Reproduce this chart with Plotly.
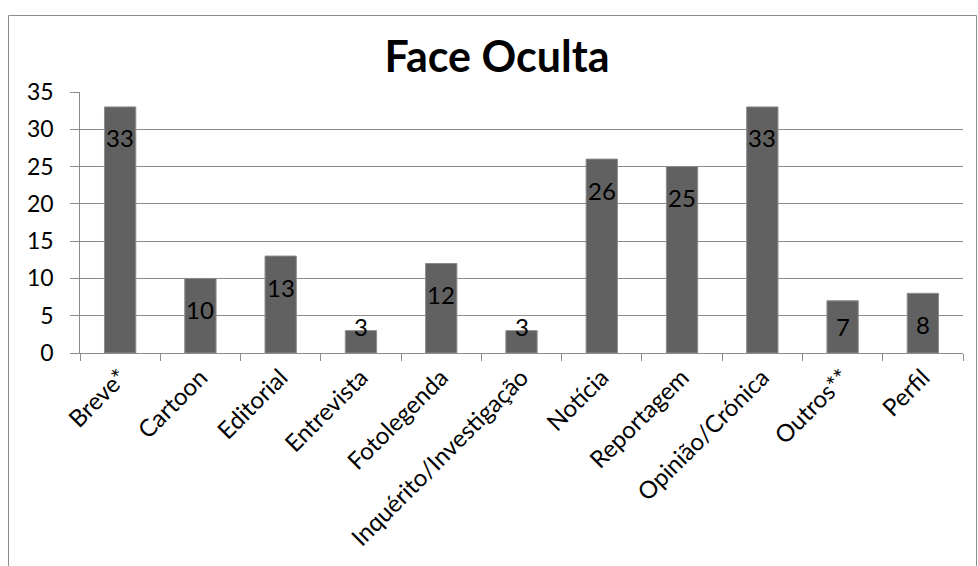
import plotly.graph_objects as go

categories = ["Breve*", "Cartoon", "Editorial", "Entrevista", "Fotolegenda",
              "Inquérito/Investigação", "Notícia", "Reportagem", "Opinião/Crónica",
              "Outros**", "Perfil"]
values = [33, 10, 13, 3, 12, 3, 26, 25, 33, 7, 8]
y_ticks = [0, 5, 10, 15, 20, 25, 30, 35]
title_text = "Face Oculta"

FONT = "Lato"
W, H = 978, 566
L, R, T, B = 80, 15, 92, 213

fig = go.Figure()
fig.add_trace(go.Bar(
    x=categories, y=values,
    marker=dict(color="#616161", line=dict(color="#8c8c8c", width=1)),
    width=0.39,
    hoverinfo="x+y",
))

# data labels ("inside end", Excel-like, clamped for short bars)
for c, v in zip(categories, values):
    fig.add_annotation(x=c, y=max(v - 4.15, 3.5), text=str(v), showarrow=False,
                       xanchor="center", yanchor="middle",
                       font=dict(family=FONT, size=24, color="black"))

pw = W - L - R
ph = H - T - B
# chart area border
fig.add_shape(type="rect", xref="paper", yref="paper",
              x0=(8.5 - L) / pw, x1=(976.5 - L) / pw,
              y0=(H - T - B - (620 - T)) / ph, y1=(H - B - 15.5) / ph,
              line=dict(color="#8c8c8c", width=1), fillcolor="rgba(0,0,0,0)", layer="below")

fig.update_layout(
    width=W, height=H,
    margin=dict(l=L, r=R, t=T, b=B),
    paper_bgcolor="white", plot_bgcolor="white",
    showlegend=False,
    title=dict(text="<b>" + title_text + "</b>", x=497 / W, xanchor="center",
               y=1 - 57 / H, yanchor="middle",
               font=dict(family=FONT, size=43, color="black")),
    font=dict(family=FONT, size=23, color="black"),
)
fig.update_xaxes(
    type="category", tickangle=-45, tickson="boundaries",
    ticks="outside", ticklen=7, tickcolor="#8c8c8c",
    showline=True, linecolor="#8c8c8c", linewidth=1,
    showgrid=False, tickfont=dict(family=FONT, size=24, color="black"),
)
fig.update_yaxes(
    range=[0, 35], tickvals=y_ticks,
    ticktext=[str(t) + "\u00a0\u00a0" for t in y_ticks],
    ticks="outside", ticklen=9, tickcolor="#8c8c8c",
    showline=True, linecolor="#8c8c8c", linewidth=1,
    showgrid=True, gridcolor="#8c8c8c", gridwidth=1, zeroline=False,
    tickfont=dict(family=FONT, size=23, color="black"),
)

fig.write_html("out.html")
